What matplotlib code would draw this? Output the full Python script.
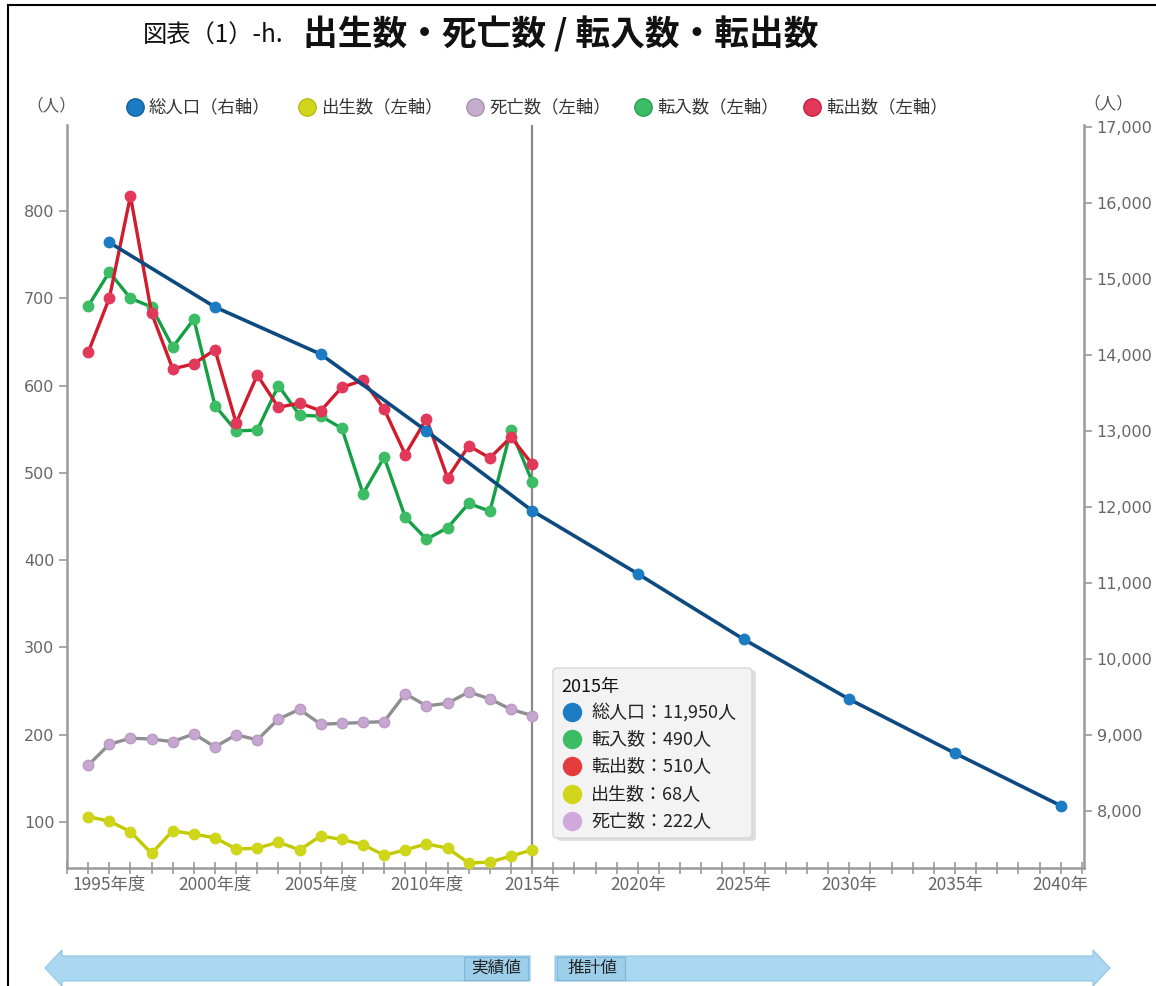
import matplotlib
matplotlib.use("Agg")
import matplotlib.pyplot as plt
from matplotlib.lines import Line2D
from matplotlib.patches import FancyBboxPatch, Polygon, Rectangle
from matplotlib.ticker import FuncFormatter, MultipleLocator

plt.rcParams['font.family'] = ['Noto Sans CJK JP', 'DejaVu Sans']

# fiscal-year series (left axis)
fiscal_years = list(range(1994, 2016))
births = [106, 101, 89, 64, 90, 86, 82, 69, 70, 77, 68, 84, 80, 74, 62, 68, 75, 70, 53, 54, 61, 68]
deaths = [165, 189, 196, 195, 192, 201, 186, 200, 194, 218, 229, 212, 213, 214, 215, 247, 233, 236, 249, 241, 229, 222]
moves_in = [691, 730, 700, 690, 644, 676, 577, 548, 549, 600, 566, 565, 551, 476, 518, 449, 424, 437, 465, 456, 549, 490]
moves_out = [638, 700, 817, 683, 619, 625, 641, 557, 612, 575, 580, 571, 598, 606, 573, 521, 562, 494, 531, 517, 541, 510]

# census / projection (right axis)
pop_years = [1995, 2000, 2005, 2010, 2015, 2020, 2025, 2030, 2035, 2040]
population = [15480, 14630, 14010, 13000, 11950, 11120, 10260, 9470, 8760, 8070]

label_years = [1995, 2000, 2005, 2010, 2015, 2020, 2025, 2030, 2035, 2040]
label_texts = ['1995年度', '2000年度', '2005年度', '2010年度', '2015年',
               '2020年', '2025年', '2030年', '2035年', '2040年']

legend_names = ['総人口（右軸）', '出生数（左軸）', '死亡数（左軸）', '転入数（左軸）', '転出数（左軸）']

W, H = 1156, 986
fig = plt.figure(figsize=(W / 100, H / 100), dpi=100)


def fx(x):
    return x / W


def fy(y):
    return 1 - y / H


ax = fig.add_axes([fx(67), fy(868), fx(1084) - fx(67), fy(125) - fy(868)])
ax2 = ax.twinx()

axis_gray = '#9a9a9a'
tick_gray = '#666666'

# left-axis series
ax.plot(fiscal_years, births, color='#c3c900', lw=2.4, marker='o', ms=7.5,
        mfc='#cfd61a', mec='#cfd61a', zorder=3)
ax.plot(fiscal_years, deaths, color='#8f8f8f', lw=2.4, marker='o', ms=7.5,
        mfc='#c8a6d2', mec='#b79bc0', zorder=3)
ax.plot(fiscal_years, moves_in, color='#16a046', lw=2.4, marker='o', ms=7.5,
        mfc='#3cbc64', mec='#3cbc64', zorder=3)
ax.plot(fiscal_years, moves_out, color='#d01c2c', lw=2.4, marker='o', ms=7.5,
        mfc='#e2385a', mec='#e2385a', zorder=4)

ax.axvline(2015, color='#8a8a8a', lw=1.6, zorder=2)

ax.set_xlim(1993, 2041.1)
ax.set_ylim(47.3, 898.5)
ax2.set_ylim(7250, 17025)

# right-axis series
ax2.plot(pop_years, population, color='#0d4a80', lw=2.6, marker='o', ms=7.5,
         mfc='#1b7cc4', mec='#1b7cc4', zorder=5)

for a in (ax, ax2):
    for s in a.spines.values():
        s.set_visible(False)
ax.spines['left'].set_visible(True)
ax.spines['bottom'].set_visible(True)
ax2.spines['right'].set_visible(True)
for s in (ax.spines['left'], ax.spines['bottom'], ax2.spines['right']):
    s.set_color(axis_gray)
    s.set_linewidth(1.8)

ax.set_yticks([100, 200, 300, 400, 500, 600, 700, 800])
ax.tick_params(axis='y', colors=axis_gray, labelcolor=tick_gray, length=6, width=1.2,
               labelsize=11.5, pad=3)
for t in ax.get_yticklabels():
    t.set_fontfamily('DejaVu Sans')

ax2.set_yticks(range(8000, 17001, 1000))
ax2.yaxis.set_major_formatter(FuncFormatter(lambda v, p: f'{int(v):,}'))
ax2.tick_params(axis='y', colors=axis_gray, labelcolor=tick_gray, length=6, width=1.2,
                labelsize=11.5, pad=3)
for t in ax2.get_yticklabels():
    t.set_fontfamily('DejaVu Sans')

ax.set_xticks(label_years)
ax.set_xticklabels(label_texts)
ax.xaxis.set_minor_locator(MultipleLocator(1))
ax.tick_params(axis='x', which='both', direction='inout', colors=axis_gray,
               labelcolor=tick_gray, length=9, width=1.2, labelsize=12.5, pad=1)

# title
fig.text(fx(143), fy(36), '図表（1）-h.', fontsize=17.5, va='center', ha='left', color='#111111')
fig.text(fx(303), fy(34), '出生数・死亡数 / 転入数・転出数', fontsize=25, fontweight='bold',
         va='center', ha='left', color='#111111')

# legend row
fig.text(fx(26), fy(106), '（人）', fontsize=12, va='center', ha='left', color='#555555')
fig.text(fx(1083), fy(104), '（人）', fontsize=12, va='center', ha='left', color='#555555')
legend_colors = ['#1b7cc4', '#d2d61a', '#c4aecb', '#3cbc64', '#e2385a']
legend_edges = ['#12609c', '#b8bc10', '#a894b0', '#27a04e', '#c41e40']
legend_x = [135, 307, 475, 643, 812]
for x, name, c, ec in zip(legend_x, legend_names, legend_colors, legend_edges):
    fig.add_artist(Line2D([fx(x)], [fy(107)], marker='o', ms=12.5, mfc=c, mec=ec, mew=1,
                          transform=fig.transFigure))
    fig.text(fx(x + 14), fy(107), name, fontsize=12.5, va='center', ha='left', color='#333333')

# hover box for 2015
i15 = fiscal_years.index(2015)
p15 = population[pop_years.index(2015)]
fig.patches.append(FancyBboxPatch((fx(557), fy(841)), fx(199), fy(670) - fy(841),
                                  boxstyle='round,pad=0,rounding_size=0.004',
                                  transform=fig.transFigure, fc='#c8c8c8', ec='none',
                                  alpha=0.6, zorder=9))
fig.patches.append(FancyBboxPatch((fx(553), fy(838)), fx(199), fy(668) - fy(838),
                                  boxstyle='round,pad=0,rounding_size=0.004',
                                  transform=fig.transFigure, fc='#f3f3f3', ec='#d6d6d6',
                                  lw=1, zorder=10))
fig.text(fx(561), fy(687), '2015年', fontsize=13, va='center', ha='left', color='#111111', zorder=11)
rows = [('総人口', p15, '#1b7cc4'), ('転入数', moves_in[i15], '#3cbc64'),
        ('転出数', moves_out[i15], '#e43c3c'), ('出生数', births[i15], '#d2d61a'),
        ('死亡数', deaths[i15], '#d0a8dc')]
for k, (name, val, c) in enumerate(rows):
    y = 712 + k * 27.2
    fig.add_artist(Line2D([fx(572)], [fy(y)], marker='o', ms=13, mfc=c, mec=c,
                          transform=fig.transFigure, zorder=11))
    fig.text(fx(591), fy(y), f'{name}：{val:,}人', fontsize=13, va='center', ha='left',
             color='#222222', zorder=11)

# actual / projected arrows along the bottom
band = '#a9d8f0'
left_arrow = [(45, 968), (62, 950), (62, 956), (530, 956), (530, 981), (62, 981), (62, 986)]
right_arrow = [(555, 956), (1093, 956), (1093, 950), (1110, 968), (1093, 986), (1093, 981), (555, 981)]
for pts in (left_arrow, right_arrow):
    fig.patches.append(Polygon([(fx(x), fy(y)) for x, y in pts], closed=True,
                               transform=fig.transFigure, fc=band, ec='#8fc4e2', lw=0.8))
fig.patches.append(Rectangle((fx(464), fy(980)), fx(64), fy(957) - fy(980),
                             transform=fig.transFigure, fc='#9ccfea', ec='#7fb8da', lw=0.8))
fig.patches.append(Rectangle((fx(557), fy(980)), fx(68), fy(957) - fy(980),
                             transform=fig.transFigure, fc='#9ccfea', ec='#7fb8da', lw=0.8))
fig.text(fx(496), fy(968), '実績値', fontsize=12, va='center', ha='center', color='#222222')
fig.text(fx(568), fy(968), '推計値', fontsize=12, va='center', ha='left', color='#222222')

# frame around the panel
fig.add_artist(Line2D([fx(8), fx(8)], [fy(5), fy(986)], color='black', lw=1.5,
                      transform=fig.transFigure))
fig.add_artist(Line2D([fx(8), fx(1156)], [fy(5), fy(5)], color='black', lw=1.5,
                      transform=fig.transFigure))

fig.savefig('out.png', dpi=100)
